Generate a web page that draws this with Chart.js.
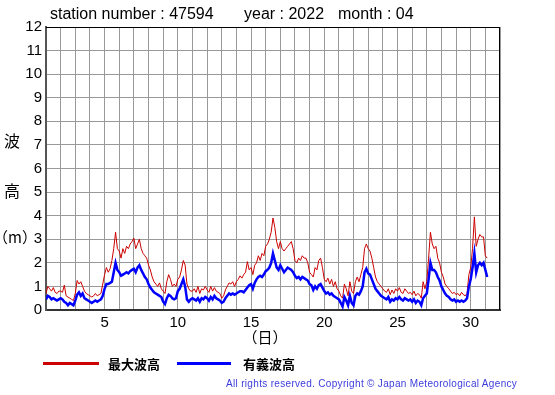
<!DOCTYPE html>
<html>
<head>
<meta charset="utf-8">
<script src="https://cdn.jsdelivr.net/npm/chart.js@4.4.1/dist/chart.umd.min.js"></script>
<style>
  html, body { margin: 0; padding: 0; background: #fff; }
  #wrap { position: relative; width: 555px; height: 395px; overflow: hidden; background: #fff; }
  #c { position: absolute; left: 0; top: 0; }
  .t { position: absolute; white-space: nowrap; color: #000; font-family: "Liberation Sans", Arial, sans-serif; }
  .cjk { font-family: "Noto Sans CJK JP", sans-serif; }
  .leg { position: absolute; height: 3px; }
</style>
</head>
<body>
<div id="wrap">
  <canvas id="c" width="555" height="395"></canvas>
  <div class="t" style="left:50px; top:5px; font-size:16px;">station number : 47594</div>
  <div class="t" style="left:244px; top:5px; font-size:16px;">year : 2022</div>
  <div class="t" style="left:338px; top:5px; font-size:16px;">month : 04</div>
  <div class="t cjk" style="left:4px; top:128px; font-size:16px;">波</div>
  <div class="t cjk" style="left:4px; top:178px; font-size:16px;">高</div>
  <div class="t cjk" style="left:-7px; top:226px; font-size:15px; width:40px; text-align:center;">（m）</div>
  <div class="t cjk" style="left:235px; top:326px; font-size:15px; width:60px; text-align:center;">（日）</div>
  <div class="leg" style="left:43px; top:362px; width:56px; background:#cc0000;"></div>
  <div class="t cjk" style="left:108px; top:354px; font-size:13px; font-weight:bold;">最大波高</div>
  <div class="leg" style="left:177px; top:362px; width:54px; background:#0000ff;"></div>
  <div class="t cjk" style="left:243px; top:354px; font-size:13px; font-weight:bold;">有義波高</div>
  <div class="t" style="left:226px; top:378px; font-size:10px; letter-spacing:0.32px; color:#3c3cdc;">All rights reserved. Copyright © Japan Meteorological Agency</div>
</div>
<script>
// 3-hourly readings, starting at day 1 00:00
const sigWave = [
  0.45,0.6,0.55,0.45,0.5,0.45,0.4,0.45,
  0.5,0.45,0.35,0.3,0.2,0.3,0.25,0.2,
  0.4,0.65,0.75,0.6,0.7,0.5,0.45,0.4,
  0.35,0.3,0.35,0.4,0.35,0.4,0.45,0.6,
  0.9,1.1,1.1,1.15,1.2,1.6,2.0,1.7,
  1.6,1.45,1.5,1.55,1.6,1.55,1.65,1.7,
  1.75,1.6,1.8,1.9,1.7,1.55,1.4,1.3,
  1.1,0.95,0.85,0.75,0.7,0.65,0.6,0.55,
  0.35,0.25,0.5,0.65,0.6,0.5,0.45,0.5,
  0.8,0.9,1.1,1.3,1.0,0.45,0.35,0.45,
  0.5,0.45,0.4,0.5,0.35,0.5,0.45,0.55,
  0.5,0.4,0.55,0.45,0.6,0.5,0.45,0.4,
  0.3,0.35,0.5,0.6,0.7,0.65,0.7,0.65,
  0.7,0.75,0.8,0.8,0.75,0.85,0.95,1.05,
  1.1,0.9,1.15,1.3,1.4,1.45,1.4,1.5,
  1.65,1.7,1.8,2.0,2.4,2.1,1.8,1.7,
  1.9,1.75,1.6,1.7,1.8,1.75,1.7,1.6,
  1.45,1.35,1.4,1.3,1.4,1.35,1.3,1.25,
  1.1,1.05,0.85,1.0,0.9,1.05,1.1,0.95,
  0.8,0.7,0.75,0.65,0.7,0.6,0.55,0.5,
  0.45,0.3,0.15,0.55,0.4,0.2,0.6,0.3,
  0.2,0.6,0.7,0.65,0.8,1.0,1.6,1.75,
  1.55,1.5,1.3,1.1,0.9,0.8,0.7,0.6,
  0.55,0.5,0.45,0.55,0.35,0.45,0.4,0.5,
  0.45,0.55,0.45,0.4,0.5,0.45,0.4,0.45,
  0.35,0.45,0.3,0.4,0.35,0.2,0.5,0.6,
  0.7,1.3,2.0,1.7,1.7,1.6,1.4,1.25,
  1.0,0.85,0.7,0.6,0.55,0.45,0.4,0.45,
  0.35,0.4,0.35,0.4,0.35,0.4,0.5,1.0,
  1.3,1.8,2.4,1.6,1.9,2.0,1.9,2.0,
  1.7,1.4
];
const maxWave = [
  0.7,1.0,0.9,0.8,0.95,0.75,0.7,0.8,
  0.8,0.75,1.05,0.6,0.55,0.5,0.45,0.4,
  0.7,1.25,1.1,1.2,1.0,0.8,0.7,0.65,
  0.6,0.55,0.6,0.7,0.6,0.65,0.7,1.1,
  1.5,1.8,1.6,1.75,2.1,2.6,3.3,2.6,
  2.5,2.2,2.6,2.4,2.7,2.6,2.8,2.9,
  3.05,2.6,2.8,3.0,2.6,2.4,2.3,2.2,
  1.9,1.7,1.4,1.2,1.1,1.0,1.15,0.9,
  0.8,0.7,1.2,1.5,1.3,1.0,1.1,1.0,
  1.3,1.4,1.7,2.1,1.9,1.1,0.9,0.8,
  0.8,0.9,0.75,1.0,0.7,0.9,0.85,1.0,
  0.85,0.75,1.0,0.8,0.95,0.8,0.75,0.7,
  0.5,0.6,0.85,1.0,1.15,1.1,1.2,1.0,
  1.2,1.3,1.45,1.35,1.5,1.6,2.05,1.7,
  1.8,1.5,1.9,2.0,2.3,2.1,2.4,2.3,
  2.7,2.8,3.0,3.3,3.9,3.5,2.9,2.6,
  2.9,2.6,2.5,2.6,2.7,2.8,2.9,2.6,
  2.1,2.0,2.2,2.1,2.3,2.2,2.2,2.0,
  1.6,1.5,1.4,1.8,1.7,2.1,2.2,1.8,
  1.3,1.2,1.35,1.1,1.3,1.0,1.2,0.9,
  0.8,0.6,0.5,1.1,0.9,0.6,1.2,0.8,
  0.7,1.2,1.4,1.2,1.5,1.8,2.6,2.8,
  2.6,2.5,2.2,1.8,1.4,1.2,1.1,1.0,
  0.9,0.8,0.75,0.9,0.65,0.85,0.7,0.9,
  0.8,0.95,0.75,0.7,0.9,0.8,0.7,0.75,
  0.65,0.8,0.6,0.7,0.65,0.5,1.2,0.9,
  1.2,2.2,3.3,2.8,2.6,2.7,2.2,2.0,
  1.6,1.4,1.1,1.0,0.9,0.8,0.7,0.75,
  0.65,0.7,0.6,0.75,0.65,0.6,0.7,1.5,
  1.8,2.6,3.95,2.7,3.0,3.2,3.1,3.1,
  2.3,2.2
];
const dayLabels = [5, 10, 15, 20, 25, 30];
const yTicks = [0,1,2,3,4,5,6,7,8,9,10,11,12];

const times = sigWave.map((_, i) => 1 + i / 8);
const sigPts = sigWave.map((v, i) => ({ x: times[i], y: v }));
const maxPts = maxWave.map((v, i) => ({ x: times[i], y: v }));

const frame = {
  id: 'frame',
  afterDraw(chart) {
    const { ctx, chartArea: a } = chart;
    ctx.save();
    ctx.strokeStyle = '#000';
    ctx.lineWidth = 1;
    ctx.beginPath();
    ctx.moveTo(a.left, a.top + 0.5); ctx.lineTo(a.right, a.top + 0.5);
    ctx.moveTo(a.right - 0.5, a.top); ctx.lineTo(a.right - 0.5, a.bottom);
    ctx.stroke();
    ctx.restore();
  }
};

new Chart(document.getElementById('c'), {
  type: 'line',
  data: {
    datasets: [
      { label: '最大波高', data: maxPts, borderColor: '#cc0000', borderWidth: 1, pointRadius: 0, tension: 0, order: 1 },
      { label: '有義波高', data: sigPts, borderColor: '#0000ff', borderWidth: 2.5, pointRadius: 0, tension: 0, order: 0 }
    ]
  },
  options: {
    responsive: false,
    devicePixelRatio: 1,
    animation: false,
    layout: { padding: { left: 0, right: 55, top: 27, bottom: 0 } },
    plugins: { legend: { display: false }, tooltip: { enabled: false } },
    scales: {
      x: {
        type: 'linear', min: 1, max: 32,
        afterFit(s) { s.height = 85; },
        grid: { color: '#999', lineWidth: 1, drawTicks: false },
        border: { color: '#333', width: 2 },
        ticks: {
          stepSize: 1, autoSkip: false, maxRotation: 0, padding: 4,
          color: '#000', font: { family: 'Liberation Sans, Arial, sans-serif', size: 15 },
          callback: (v) => dayLabels.includes(v) ? String(v) : ''
        }
      },
      y: {
        min: 0, max: 12,
        afterFit(s) { s.width = 46; },
        afterBuildTicks(s) { s.ticks = yTicks.map(v => ({ value: v })); },
        grid: { color: '#999', lineWidth: 1, drawTicks: false },
        border: { color: '#555', width: 2 },
        ticks: {
          padding: 4, color: '#000',
          font: { family: 'Liberation Sans, Arial, sans-serif', size: 15 }
        }
      }
    }
  },
  plugins: [frame]
});
</script>
</body>
</html>
